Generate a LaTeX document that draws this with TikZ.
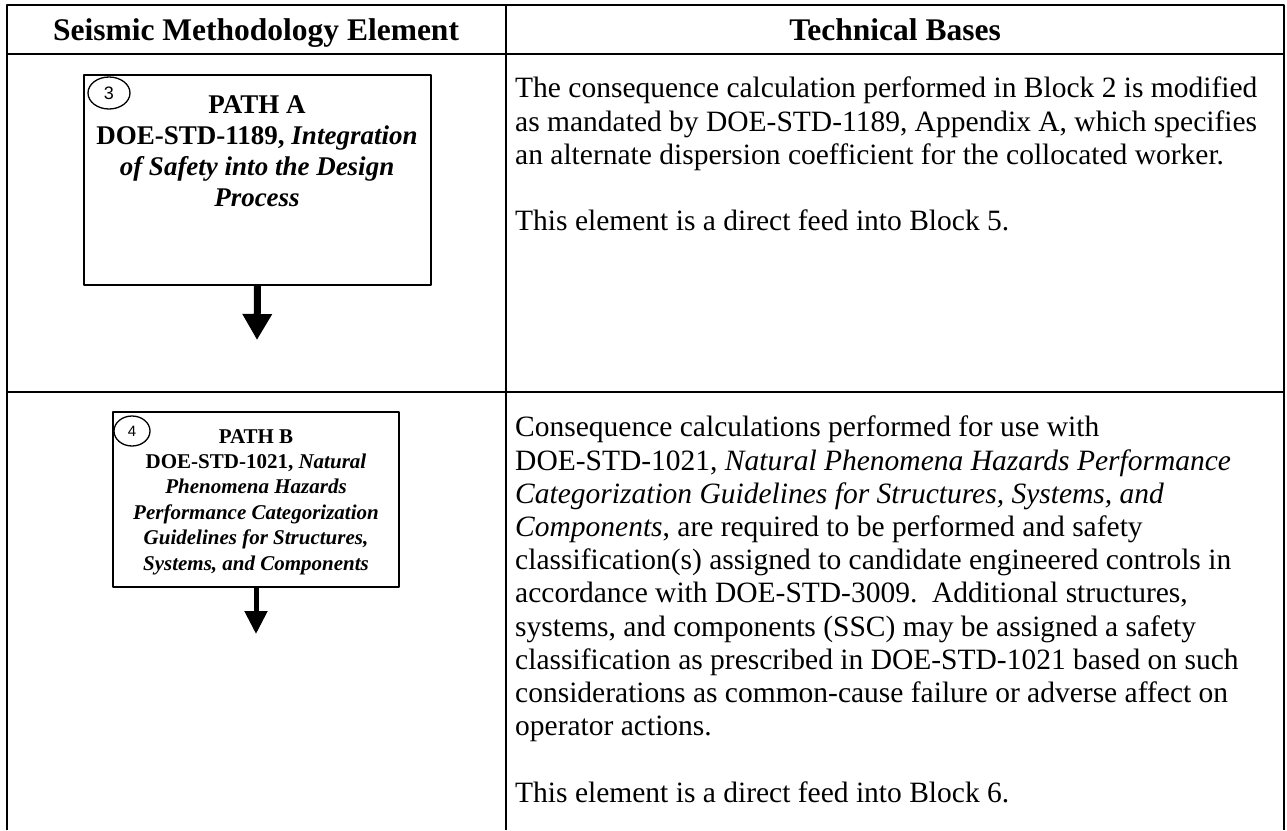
\documentclass[tikz,border=0pt]{standalone}
\usepackage{fontspec}
\setmainfont{Liberation Serif}
\newfontfamily\numfont{Liberation Sans}
\usetikzlibrary{arrows.meta,shapes.geometric}
\tikzset{
  rule/.style={line width=2pt},
  pathbox/.style={draw,line width=1.5pt,inner sep=0pt},
  numcirc/.style={draw,ellipse,line width=1.3pt,inner sep=0pt,minimum width=42pt,minimum height=32pt,font=\numfont\fontsize{18}{18}\selectfont},
  feed/.style={-{Triangle[width=28pt,length=26pt]},line width=7pt},
  head/.style={anchor=base,font=\bfseries\fontsize{31.5}{36}\selectfont},
  basis/.style={anchor=north west,inner sep=0pt,align=left,font=\fontsize{29.5}{33.2}\selectfont},
}
\begin{document}
\begin{tikzpicture}[x=1pt,y=-1pt,line join=round]
		\useasboundingbox (0,0) rectangle (1287,830);
		% table rules
		\draw[rule] (7,830)--(7,5)--(1284,5)--(1284,830);
		\draw[rule] (506,5)--(506,830);
		\draw[rule] (7,54)--(1284,54);
		\draw[rule] (7,392)--(1284,392);
		\node[head] (hdleft) at (256,40) {Seismic Methodology Element};
		\node[head] (hdright) at (895,40) {Technical Bases};
		% path A
		\node[pathbox,minimum width=347pt,minimum height=210pt] (boxA) at (257.5,180) {};
		\node[numcirc] (numA) at (109,93) {3};
		\node[anchor=north,inner sep=0pt,align=center,font=\bfseries\fontsize{27}{31}\selectfont] (txtA) at (257,95)
		{PATH A\\DOE-STD-1189, \textit{Integration}\\\textit{of Safety into the Design}\\\textit{Process}};
		\coordinate (endA) at (257,340);
		\draw[feed] (boxA.south)--(endA);
		\node[basis] (baseA) at (515,77)
		{The consequence calculation performed in Block 2 is modified\\
		as mandated by DOE-STD-1189, Appendix A, which specifies\\
		an alternate dispersion coefficient for the collocated worker.\\[33.2pt]
		This element is a direct feed into Block 5.};
		% path B
		\node[pathbox,minimum width=286pt,minimum height=175pt] (boxB) at (256,499.5) {};
		\node[numcirc,minimum width=36pt,minimum height=30pt,font=\numfont\fontsize{15}{15}\selectfont] (numB) at (132,431) {4};
		\node[anchor=north,inner sep=0pt,align=center,font=\bfseries\fontsize{21}{25.4}\selectfont] (txtB) at (256,429)
		{PATH B\\DOE-STD-1021, \textit{Natural}\\\textit{Phenomena Hazards}\\\textit{Performance Categorization}\\
		\textit{Guidelines for Structures,}\\\textit{Systems, and Components}};
		\coordinate (endB) at (256,634);
		\draw[feed,line width=5pt,-{Triangle[width=22pt,length=23pt]}] (boxB.south)--(endB);
		\node[basis] (baseB) at (515,416)
		{Consequence calculations performed for use with\\
		DOE-STD-1021, \textit{Natural Phenomena Hazards Performance}\\
		\textit{Categorization Guidelines for Structures, Systems, and}\\
		\textit{Components}, are required to be performed and safety\\
		classification(s) assigned to candidate engineered controls in\\
		accordance with DOE-STD-3009.\ \ Additional structures,\\
		systems, and components (SSC) may be assigned a safety\\
		classification as prescribed in DOE-STD-1021 based on such\\
		considerations as common-cause failure or adverse affect on\\
		operator actions.\\[33.2pt]
		This element is a direct feed into Block 6.};
\end{tikzpicture}
\end{document}
